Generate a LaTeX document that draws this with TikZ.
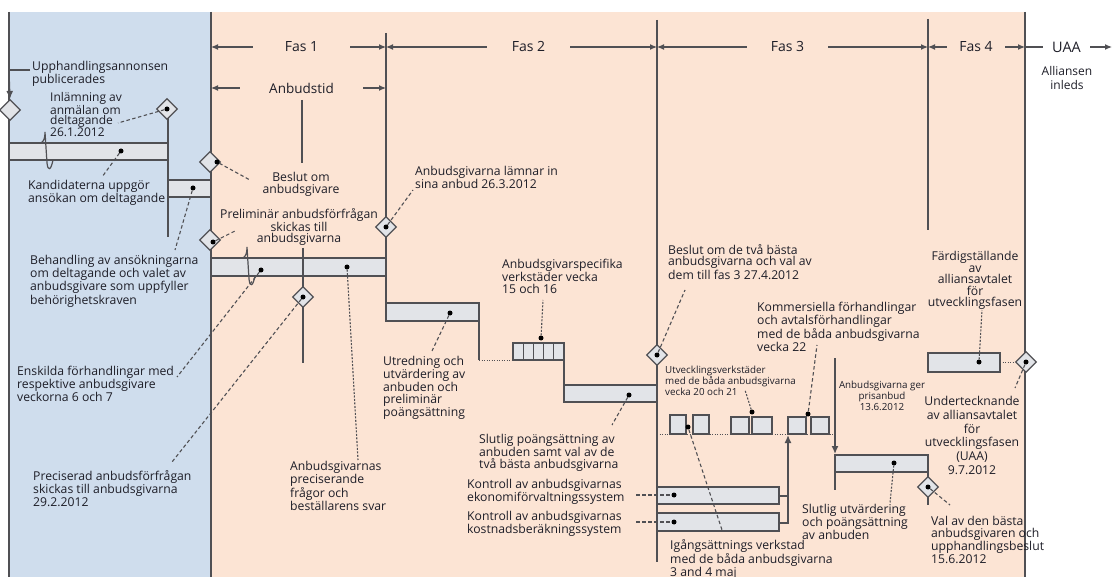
\documentclass[tikz,border=0pt]{standalone}
\usepackage{fontspec}
\setmainfont{Open Sans}
\usetikzlibrary{shapes.geometric,arrows.meta}
\definecolor{bluebg}{RGB}{207,221,237}
\definecolor{peach}{RGB}{252,228,212}
\definecolor{lc}{RGB}{80,80,84}
\definecolor{barfill}{RGB}{226,228,232}
\definecolor{txt}{RGB}{30,30,40}
\begin{document}
\begin{tikzpicture}[x=1pt,y=-1pt,
 every node/.style={text=txt},
 lbl/.style={inner sep=0pt, anchor=north west, align=left, font=\fontsize{12.2}{11.6}\selectfont},
 lblc/.style={lbl, anchor=north, align=center},
 small/.style={font=\fontsize{9.8}{10.8}\selectfont},
 ln/.style={draw=lc, line width=1.4pt},
 bar/.style={draw=lc, fill=barfill, line width=1.2pt},
 dia/.style={diamond, draw=lc, fill=barfill, line width=1.2pt, minimum size=21pt, inner sep=0pt},
 lead/.style={draw=lc, line width=1.1pt, dash pattern=on 3.5pt off 2.5pt},
 dotl/.style={draw=lc, line width=0.9pt, dash pattern=on 1.2pt off 1.3pt},
 dt/.style={circle, fill=black, inner sep=0pt, minimum size=5pt},
 harrow/.style={draw=lc, line width=1.2pt, -{Latex[length=7pt,width=6pt]}},
 tip/.style={-{Latex[length=8pt,width=7pt]}},
 hdr/.style={inner sep=0pt, font=\fontsize{14}{14}\selectfont}]
\useasboundingbox (0,0) rectangle (1113,577);
\fill[bluebg] (9,12) rectangle (211,577);
\fill[peach] (211,12) rectangle (1025,577);

% boundaries
\coordinate (xa) at (211,0);
\coordinate (xb) at (386,0);
\coordinate (xc) at (657,0);
\coordinate (xd) at (928,0);
\coordinate (xe) at (1025,0);
\coordinate (xf) at (1112,0);

% main vertical lines
\draw[ln] (9,12) -- (9,577);
\draw[ln] (211,12) -- (211,577);
\draw[ln] (386,33) -- (386,303);
\draw[ln] (657,20) -- (657,562);
\draw[ln] (928,19) -- (928,230);
\draw[ln] (1025,12) -- (1025,577);
\draw[ln] (302,100) -- (302,163);
\draw[ln] (168,110) -- (168,237);
\draw[ln] (479,321) -- (479,360);
\draw[ln] (564,360) -- (564,385);
\draw[ln] (928,472) -- (928,505);

% header
\node[hdr, minimum width=97pt] (f1) at (301.5,47) {Fas 1};
\draw[harrow] (f1.west) -- (f1.west -| xa);
\draw[harrow] (f1.east) -- (f1.east -| xb);
\node[hdr, minimum width=83pt] (f2) at (528.5,47) {Fas 2};
\draw[harrow] (f2.west) -- (f2.west -| xb);
\draw[harrow] (f2.east) -- (f2.east -| xc);
\node[hdr, minimum width=81pt] (f3) at (787.5,47) {Fas 3};
\draw[harrow] (f3.west) -- (f3.west -| xc);
\draw[harrow] (f3.east) -- (f3.east -| xd);
\node[hdr, minimum width=58pt] (f4) at (976,47) {Fas 4};
\draw[harrow] (f4.west) -- (f4.west -| xd);
\draw[harrow] (f4.east) -- (f4.east -| xe);
\node[hdr, minimum width=47pt, font=\fontsize{14.5}{14.5}\selectfont] (fu) at (1066.5,47) {UAA};
\draw[ln, line width=1.2pt] (fu.west) -- (fu.west -| xe);
\draw[harrow] (fu.east) -- (fu.east -| xf);
\node[hdr, minimum width=123pt, font=\fontsize{13.5}{13.5}\selectfont] (ab) at (301.5,88) {Anbudstid};
\draw[harrow] (ab.west) -- (ab.west -| xa);
\draw[harrow] (ab.east) -- (ab.east -| xb);
\node[lblc, font=\fontsize{12}{14}\selectfont] (al) at (1067,66) {Alliansen\\inleds};

% bars
\draw[bar] (9,143) rectangle (168,160);
\draw[bar] (168,180) rectangle (211,197);
\draw[bar] (211,258) rectangle (386,276);
\draw[bar] (386,303) rectangle (479,321);
\draw[dotl] (479,360) -- (513,360);
\foreach \i in {0,...,4} \draw[bar] ({513+10.2*\i},343) rectangle ({523.2+10.2*\i},360);
\draw[bar] (564,385) rectangle (657,402);
\draw[bar] (657,487) rectangle (779,504);
\draw[bar] (657,513) rectangle (779,531);
\draw[bar] (835,455) rectangle (928,472);
\draw[bar] (928,353) rectangle (1000,372);
\draw[dotl] (657,434) -- (835,434);
\draw[bar] (670,415) rectangle (686,434);
\draw[bar] (693,415) rectangle (709,434);
\draw[bar] (731,417) rectangle (749,434);
\draw[bar] (752,417) rectangle (772,434);
\draw[bar] (788,417) rectangle (806,434);
\draw[bar] (811,417) rectangle (829,434);
\draw[ln] (303,248) -- (303,363);

% breaks
\draw[draw=lc, line width=1.2pt] (41,143) .. controls (44,141) and (45,138) .. (45,132) -- (47,163) .. controls (48,172) and (51,170) .. (53,160);
\draw[draw=lc, line width=1.2pt] (243,258) .. controls (246,256) and (247,253) .. (247,247) -- (249,279) .. controls (250,288) and (253,286) .. (255,276);

% arrows fas 3
\draw[ln] (779,496) -- (788,496);
\draw[ln, tip] (779,523) -| (788,435);
\draw[ln, tip] (835,358) -- (835,454);
\draw[ln] (835,454) -- (835,490);

% diamonds
\node[dia] (d1) at (10,110) {};
\node[dia] (d2) at (167,109) {};
\node[dia] (d3) at (210,162) {};
\node[dia] (d4) at (210,240) {};
\node[dia] (d5) at (386,227) {};
\node[dia] (d6) at (303,297) {};
\node[dia] (d7) at (657,355) {};
\node[dia] (d8) at (1026,362) {};
\node[dia] (d9) at (928,487) {};

% dots
\node[dt] (p2) at (167,109) {};
\node[dt] (p3) at (217,162) {};
\node[dt] (p4) at (213,242) {};
\node[dt] (p5) at (386,227) {};
\node[dt] (p6) at (303,297) {};
\node[dt] (p7) at (657,355) {};
\node[dt] (p8) at (1026,362) {};
\node[dt] (p9) at (928,487) {};
\node[dt] (pA) at (121,151) {};
\node[dt] (pB) at (193,188) {};
\node[dt] (pC) at (261,270) {};
\node[dt] (pC2) at (347,267) {};
\node[dt] (pD) at (450,313) {};
\node[dt] (pW) at (541,338) {};
\node[dt] (pE) at (629,395) {};
\node[dt] (pF) at (674,495) {};
\node[dt] (pG) at (674,522) {};
\node[dt] (pH) at (894,463) {};
\node[dt] (pI) at (979,362) {};
\node[dt] (q1) at (688,427) {};
\node[dt] (q2) at (752,412) {};
\node[dt] (q3) at (808,414) {};

% texts
\node[lbl] (t1) at (32,61) {Upphandlingsannonsen\\publicerades};
\node[lbl, font=\fontsize{12}{10}\selectfont] (t2) at (50,92) {Inlämning av\\anmälan om\\deltagande\\26.1.2012};
\node[lbl] (t3) at (28,180) {Kandidaterna uppgör\\ansökan om deltagande};
\node[lbl] (t4) at (30,255) {Behandling av ansökningarna\\om deltagande och valet av\\anbudsgivare som uppfyller\\behörighetskraven};
\node[lbl] (t5) at (17,366) {Enskilda förhandlingar med\\respektive anbudsgivare\\veckorna 6 och 7};
\node[lbl] (t6) at (33,470) {Preciserad anbudsförfrågan\\skickas till anbudsgivarna\\29.2.2012};
\node[lblc] (t7) at (301,172) {Beslut om\\anbudsgivare};
\node[lblc] (t8) at (299,208) {Preliminär anbudsförfrågan\\skickas till\\anbudsgivarna};
\node[lbl] (t9) at (415,166) {Anbudsgivarna lämnar in\\sina anbud 26.3.2012};
\node[lbl] (t10) at (502,259) {Anbudsgivarspecifika\\verkstäder vecka\\15 och 16};
\node[lbl] (t11) at (383,356) {Utredning och\\utvärdering av\\anbuden och\\preliminär\\poängsättning};
\node[lbl] (t12) at (479,434) {Slutlig poängsättning av\\anbuden samt val av de\\två bästa anbudsgivarna};
\node[lbl] (t13) at (467,479) {Kontroll av anbudsgivarnas\\ekonomiförvaltningssystem};
\node[lbl] (t14) at (467,511) {Kontroll av anbudsgivarnas\\kostnadsberäkningssystem};
\node[lbl] (t15) at (290,461) {Anbudsgivarnas\\preciserande\\frågor och\\beställarens svar};
\node[lbl] (t16) at (668,244) {Beslut om de två bästa\\anbudsgivarna och val av\\dem till fas 3 27.4.2012};
\node[lbl, small] (t17) at (665,366) {Utvecklingsverkstäder\\med de båda anbudsgivarna\\vecka 20 och 21};
\node[lbl] (t18) at (757,302) {Kommersiella förhandlingar\\och avtalsförhandlingar\\med de båda anbudsgivarna\\vecka 22};
\node[lblc] (t19) at (975,251) {Färdigställande\\av\\alliansavtalet\\för\\utvecklingsfasen};
\node[lblc, small] (t20) at (882,381) {Anbudsgivarna ger\\prisanbud\\13.6.2012};
\node[lblc, font=\fontsize{12.2}{13.8}\selectfont] (t21) at (972,396) {Undertecknande\\av alliansavtalet\\för\\utvecklingsfasen\\(UAA)\\9.7.2012};
\node[lbl] (t22) at (802,504) {Slutlig utvärdering\\och poängsättning\\av anbuden};
\node[lbl] (t23) at (931,516) {Val av den bästa\\anbudsgivaren och\\upphandlingsbeslut\\15.6.2012};
\node[lbl, font=\fontsize{12.2}{10.8}\selectfont] (t24) at (670,539) {Igångsättnings verkstad\\med de båda anbudsgivarna\\3 and 4 maj};

% leader end points
\coordinate (e1) at (30,70);
\coordinate (e1b) at (9,70);
\coordinate (e2) at (118,123);
\coordinate (e3) at (250,180);
\coordinate (e4) at (235,231);
\coordinate (e5) at (413,190);
\coordinate (e6) at (172,462);
\coordinate (e7) at (685,290);
\coordinate (e8) at (1015,388);
\coordinate (e9) at (950,505);
\coordinate (eA) at (102,177);
\coordinate (eB) at (175,250);
\coordinate (eC) at (177,377);
\coordinate (eC2) at (358,460);
\coordinate (eD) at (432,351);
\coordinate (eW) at (543,300);
\coordinate (eE) at (612,425);
\coordinate (eF) at (636,495);
\coordinate (eG) at (636,522);
\coordinate (eH) at (890,503);
\coordinate (eI) at (982,310);
\coordinate (eq1) at (722,530);
\coordinate (eq2) at (745,390);
\coordinate (eq3) at (817,345);
\coordinate (eIr) at (1000,362);

% leaders
\draw[ln, line width=1.2pt] (e1) -- (e1b);
\draw[ln, line width=1.2pt, tip] (e1b) -- (d1.north);
\draw[lead] (p2) -- (e2);
\draw[lead] (p3) -- (e3);
\draw[lead] (p4) -- (e4);
\draw[lead] (p5) -- (e5);
\draw[lead] (p6) -- (e6);
\draw[lead] (p7) -- (e7);
\draw[lead] (p8) -- (e8);
\draw[lead] (p9) -- (e9);
\draw[lead] (pA) -- (eA);
\draw[lead] (pB) -- (eB);
\draw[lead] (pC) -- (eC);
\draw[dotl, line width=1.1pt, dash pattern=on 2pt off 1.5pt] (pC2) -- (eC2);
\draw[lead] (pD) -- (eD);
\draw[dotl, line width=1.1pt, dash pattern=on 2pt off 1.5pt] (pW) -- (eW);
\draw[lead] (pE) -- (eE);
\draw[lead] (eF) -- (pF);
\draw[lead] (eG) -- (pG);
\draw[dotl, line width=1.1pt, dash pattern=on 2pt off 1.5pt] (pH) -- (eH);
\draw[dotl, line width=1.1pt, dash pattern=on 2pt off 1.5pt] (pI) -- (eI);
\draw[dotl] (eIr) -- (d8.west);
\draw[lead] (q1) -- (eq1);
\draw[dotl, line width=1.1pt, dash pattern=on 2pt off 1.5pt] (q2) -- (eq2);
\draw[lead] (q3) -- (eq3);
\end{tikzpicture}
\end{document}
